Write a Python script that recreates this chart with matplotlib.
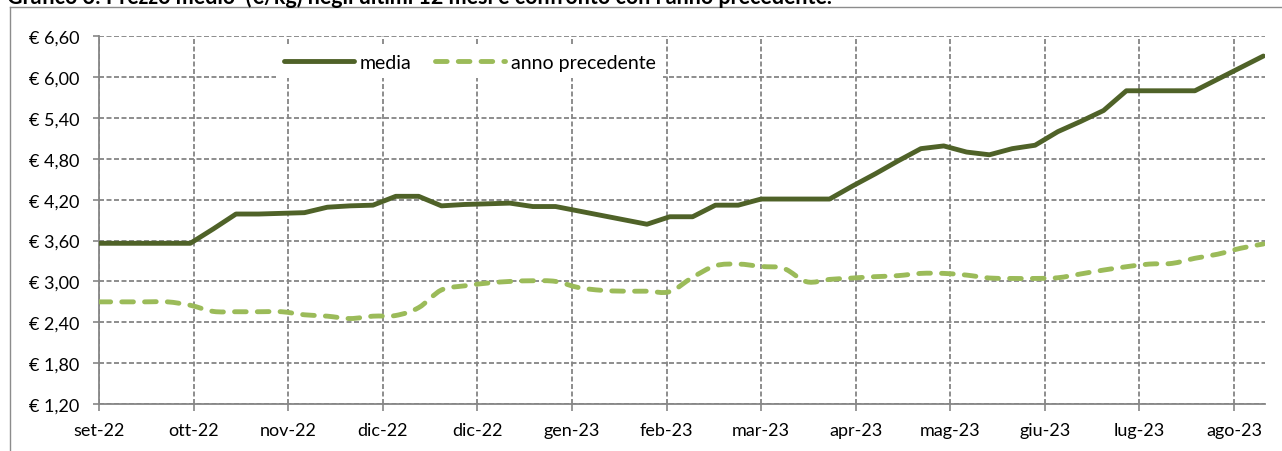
import matplotlib
matplotlib.use("Agg")
import matplotlib.pyplot as plt
from matplotlib.path import Path
from matplotlib.patches import PathPatch
from matplotlib.lines import Line2D
from matplotlib.ticker import FuncFormatter
import numpy as np

# ---------------- data ----------------
title = "Grafico 3: Prezzo medio  (€/kg) negli ultimi 12 mesi e confronto con l'anno precedente."
series_names = ["media", "anno precedente"]
week_days = [7 * i for i in range(52)]  # weekly observations (days from first week)
media = [3.56, 3.56, 3.56, 3.56, 3.56, 3.77, 3.99, 3.99, 4.00, 4.01,
         4.09, 4.11, 4.12, 4.25, 4.25, 4.11, 4.13, 4.14, 4.15, 4.10,
         4.10, 4.035, 3.97, 3.905, 3.84, 3.95, 3.95, 4.12, 4.12, 4.21,
         4.21, 4.21, 4.21, 4.40, 4.58, 4.77, 4.95, 4.99, 4.90, 4.86,
         4.95, 5.00, 5.20, 5.35, 5.51, 5.80, 5.80, 5.80, 5.80, 5.97,
         6.14, 6.31]
anno_precedente = [2.70, 2.70, 2.70, 2.70, 2.65, 2.56, 2.555, 2.555, 2.555, 2.51,
                   2.49, 2.455, 2.49, 2.50, 2.615, 2.875, 2.935, 2.975, 3.00, 3.01,
                   3.00, 2.91, 2.87, 2.857, 2.857, 2.85, 3.06, 3.23, 3.255, 3.22,
                   3.19, 2.995, 3.03, 3.05, 3.07, 3.085, 3.118, 3.118, 3.093, 3.05,
                   3.044, 3.044, 3.054, 3.11, 3.167, 3.216, 3.255, 3.265, 3.34, 3.40,
                   3.487, 3.55]
tick_labels = ["set-22", "ott-22", "nov-22", "dic-22", "dic-22", "gen-23", "feb-23",
               "mar-23", "apr-23", "mag-23", "giu-23", "lug-23", "ago-23"]
tick_step_days = 29
y_ticks = [1.20, 1.80, 2.40, 3.00, 3.60, 4.20, 4.80, 5.40, 6.00, 6.60]

# ---------------- style ----------------
plt.rcParams['font.family'] = ['Lato', 'DejaVu Sans']
plt.rcParams['lines.scale_dashes'] = False
C_MEDIA = "#4F6228"
C_PREC = "#9BBB59"
C_GRID = "#858585"
LW = 3.5
DASH = (0, (8.4, 8.0))

W, H = 1282, 452
fig = plt.figure(figsize=(W / 100, H / 100), dpi=100)
ax = fig.add_axes([99 / W, 1 - 405 / H, (1265 - 99) / W, (405 - 37.3) / H])

# media: straight segments
ax.plot(week_days, media, color=C_MEDIA, lw=LW, solid_capstyle='round',
        solid_joinstyle='round', zorder=4)

# anno precedente: smoothed line (Bezier through data points)
x = np.asarray(week_days, float)
y = np.asarray(anno_precedente, float)
pts = np.column_stack([x, y])
verts = [pts[0]]
codes = [Path.MOVETO]
n = len(pts)
for k in range(n - 1):
    p0 = pts[k - 1] if k > 0 else pts[k]
    p1 = pts[k]
    p2 = pts[k + 1]
    p3 = pts[k + 2] if k + 2 < n else pts[k + 1]
    c1 = p1 + (p2 - p0) / 6.0
    c2 = p2 - (p3 - p1) / 6.0
    verts += [c1, c2, p2]
    codes += [Path.CURVE4] * 3
patch = PathPatch(Path(verts, codes), facecolor='none', edgecolor=C_PREC, lw=LW,
                  linestyle=DASH, capstyle='round', joinstyle='round', zorder=3)
ax.add_patch(patch)

# axes
ax.set_xlim(0, 357.5)
ax.set_ylim(1.20, 6.60)
ax.set_xticks([tick_step_days * k for k in range(len(tick_labels))])
ax.set_xticklabels(tick_labels)
ax.set_yticks(y_ticks)
ax.yaxis.set_major_formatter(FuncFormatter(lambda v, p: "€ " + f"{v:.2f}".replace(".", ",")))
ax.grid(True, color=C_GRID, lw=1.3, linestyle=(0, (3.6, 1.8)), zorder=1)
ax.set_axisbelow(True)
for s in ["top", "right"]:
    ax.spines[s].set_visible(False)
for s in ["left", "bottom"]:
    ax.spines[s].set_color("#868686")
    ax.spines[s].set_linewidth(1.3)
ax.tick_params(axis='y', length=4, width=1.2, color="#868686", pad=10, labelsize=13)
ax.tick_params(axis='x', length=5, width=1.2, color="#868686", pad=8, labelsize=13)

# legend
handles = [Line2D([], [], color=C_MEDIA, lw=LW, solid_capstyle='round'),
           Line2D([], [], color=C_PREC, lw=LW, linestyle=DASH, dash_capstyle='round')]
leg = ax.legend(handles, series_names, loc='center', bbox_to_anchor=(0.318, 0.93),
                ncol=2, frameon=True, fontsize=14, handlelength=3.6, handletextpad=0.3,
                columnspacing=1.2, borderpad=0.4, fancybox=False)
leg.get_frame().set_facecolor('white')
leg.get_frame().set_edgecolor('none')
leg.get_frame().set_alpha(1)
leg.set_zorder(5)

# outer frame and clipped title (the reference shows it cut at the top edge)
fig.add_artist(Line2D([10 / W, 10 / W], [0, 1 - 8.3 / H], transform=fig.transFigure,
                      color="#8C8C8C", lw=1.0))
fig.add_artist(Line2D([10 / W, 1], [1 - 8.3 / H, 1 - 8.3 / H], transform=fig.transFigure,
                      color="#8C8C8C", lw=1.0))
fig.text(7 / W, 1 - 4.5 / H, title, fontsize=15.5, fontweight='bold', va='baseline', ha='left')

fig.savefig("out.png", dpi=100)
